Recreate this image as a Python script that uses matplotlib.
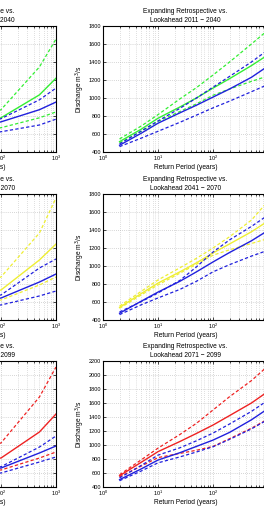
import matplotlib
matplotlib.use("Agg")
import matplotlib.pyplot as plt
from matplotlib.ticker import LogLocator, NullFormatter, MultipleLocator

plt.rcParams['font.family'] = ['Liberation Sans', 'DejaVu Sans']

rp = [2, 5, 10, 25, 50, 100, 200, 500, 1000]

# ---- Row 1 (2011-2040) ----
static1_fut_hi = [540, 610, 660, 730, 790, 870, 1075, 1345, 1655]
static1_fut = [515, 585, 630, 690, 735, 780, 890, 1035, 1220]
static1_fut_lo = [500, 565, 600, 630, 650, 670, 717, 780, 845]
static1_ret_hi = [490, 560, 605, 665, 715, 770, 860, 980, 1110]
static1_ret = [475, 545, 590, 645, 690, 735, 793, 870, 955]
static1_ret_lo = [460, 520, 555, 585, 605, 625, 657, 700, 765]

exp1_fut_hi = [545, 690, 815, 990, 1115, 1255, 1400, 1600, 1755]
exp1_fut = [515, 655, 775, 900, 1000, 1110, 1215, 1360, 1480]
exp1_fut_lo = [500, 630, 740, 850, 935, 1030, 1100, 1185, 1245]
exp1_ret_hi = [490, 635, 745, 885, 1000, 1120, 1240, 1400, 1535]
exp1_ret = [475, 610, 720, 835, 920, 1010, 1100, 1230, 1355]
exp1_ret_lo = [460, 555, 630, 730, 810, 890, 965, 1070, 1150]

# ---- Row 2 (2041-2070) ----
static2_fut_hi = [555, 640, 700, 770, 820, 878, 1088, 1367, 1755]
static2_fut = [540, 610, 650, 690, 715, 733, 877, 1067, 1244]
static2_fut_lo = [530, 570, 590, 605, 615, 622, 694, 789, 878]
static2_ret_hi = [490, 560, 600, 635, 660, 678, 807, 978, 1078]
static2_ret = [475, 540, 575, 605, 625, 644, 721, 822, 911]
static2_ret_lo = [460, 500, 525, 545, 557, 567, 610, 667, 722]

exp2_fut_hi = [555, 720, 845, 980, 1085, 1200, 1325, 1510, 1720]
exp2_fut = [540, 695, 810, 935, 1035, 1145, 1245, 1380, 1500]
exp2_fut_lo = [530, 680, 790, 920, 1020, 1120, 1180, 1250, 1305]
exp2_ret_hi = [490, 605, 700, 840, 990, 1155, 1290, 1440, 1565]
exp2_ret = [475, 610, 710, 830, 935, 1045, 1150, 1280, 1395]
exp2_ret_lo = [460, 570, 645, 740, 830, 935, 1015, 1110, 1175]

# ---- Row 3 (2071-2099) ----
static3_fut_hi = [575, 700, 790, 880, 960, 1029, 1312, 1686, 2114]
static3_fut = [560, 660, 720, 765, 795, 814, 974, 1186, 1443]
static3_fut_lo = [545, 590, 615, 630, 638, 643, 717, 814, 900]
static3_ret_hi = [530, 600, 640, 665, 680, 690, 811, 971, 1129]
static3_ret = [505, 580, 620, 645, 660, 671, 764, 886, 986]
static3_ret_lo = [490, 545, 570, 585, 594, 600, 668, 757, 829]

exp3_fut_hi = [575, 790, 955, 1150, 1310, 1500, 1690, 1920, 2130]
exp3_fut = [560, 755, 905, 1050, 1165, 1285, 1420, 1600, 1765]
exp3_fut_lo = [545, 700, 820, 880, 925, 980, 1090, 1240, 1370]
exp3_ret_hi = [530, 710, 855, 960, 1060, 1170, 1300, 1480, 1640]
exp3_ret = [505, 660, 785, 890, 980, 1070, 1180, 1360, 1520]
exp3_ret_lo = [490, 630, 745, 830, 900, 975, 1080, 1230, 1365]

periods = ['2011 \u2212 2040', '2041 \u2212 2070', '2071 \u2212 2099']
fut_colors = ['#33ee33', '#eeee33', '#ee2222']
ret_color = '#2020dd'
ylims = [(400, 1800), (400, 1800), (400, 2200)]

static_sets = [
    (static1_fut_hi, static1_fut, static1_fut_lo, static1_ret_hi, static1_ret, static1_ret_lo),
    (static2_fut_hi, static2_fut, static2_fut_lo, static2_ret_hi, static2_ret, static2_ret_lo),
    (static3_fut_hi, static3_fut, static3_fut_lo, static3_ret_hi, static3_ret, static3_ret_lo),
]
exp_sets = [
    (exp1_fut_hi, exp1_fut, exp1_fut_lo, exp1_ret_hi, exp1_ret, exp1_ret_lo),
    (exp2_fut_hi, exp2_fut, exp2_fut_lo, exp2_ret_hi, exp2_ret, exp2_ret_lo),
    (exp3_fut_hi, exp3_fut, exp3_fut_lo, exp3_ret_hi, exp3_ret, exp3_ret_lo),
]

W, H = 264, 509
fig = plt.figure(figsize=(W / 100, H / 100), dpi=100)

tops = [26, 194, 361]
ax_h = 126
ax_w = 165
lefts = [-109, 103]

FS = 4.8
TFS = 4.0
DASH = (2.6, 1.8)


def style(ax, ylim):
    ax.set_xscale('log')
    ax.set_xlim(1, 1000)
    ax.set_ylim(*ylim)
    ax.yaxis.set_major_locator(MultipleLocator(200))
    ax.xaxis.set_major_locator(LogLocator(base=10, numticks=10))
    ax.xaxis.set_minor_locator(LogLocator(base=10, subs=range(2, 10), numticks=20))
    ax.xaxis.set_minor_formatter(NullFormatter())
    ax.grid(True, which='major', axis='both', color='#b0b0b0', linestyle=(0, (1, 2)), linewidth=0.5)
    ax.grid(True, which='minor', axis='x', color='#c0c0c0', linestyle=(0, (1, 2)), linewidth=0.5)
    ax.tick_params(axis='both', which='both', direction='in', top=True, right=True,
                   labelsize=TFS, length=2, width=0.5, pad=1.5)
    ax.tick_params(axis='both', which='minor', length=1.2)
    for s in ax.spines.values():
        s.set_linewidth(0.8)
    ax.set_xlabel('Return Period (years)', fontsize=FS, labelpad=0.5)


def draw(ax, data, col):
    fhi, f, flo, rhi, r, rlo = data
    ax.plot(rp, f, color=col, lw=1.0)
    ax.plot(rp, fhi, color=col, lw=0.9, dashes=DASH)
    ax.plot(rp, flo, color=col, lw=0.9, dashes=DASH)
    ax.plot(rp, r, color=ret_color, lw=1.0)
    ax.plot(rp, rhi, color=ret_color, lw=0.9, dashes=DASH)
    ax.plot(rp, rlo, color=ret_color, lw=0.9, dashes=DASH)


for i in range(3):
    bottom = 1 - (tops[i] + ax_h) / H
    for j, left in enumerate(lefts):
        ax = fig.add_axes([left / W, bottom, ax_w / W, ax_h / H])
        style(ax, ylims[i])
        if j == 0:
            draw(ax, static_sets[i], fut_colors[i])
            ax.set_title('Static Retrospective vs.\nLookahead ' + periods[i],
                         fontsize=FS, pad=3, x=0.535, linespacing=1.3)
        else:
            draw(ax, exp_sets[i], fut_colors[i])
            ax.set_title('Expanding Retrospective vs.\nLookahead ' + periods[i],
                         fontsize=FS, pad=3, linespacing=1.3)
            ax.set_ylabel('Discharge m$^3$/s', fontsize=FS, labelpad=1)

fig.savefig('out.png', dpi=100)
